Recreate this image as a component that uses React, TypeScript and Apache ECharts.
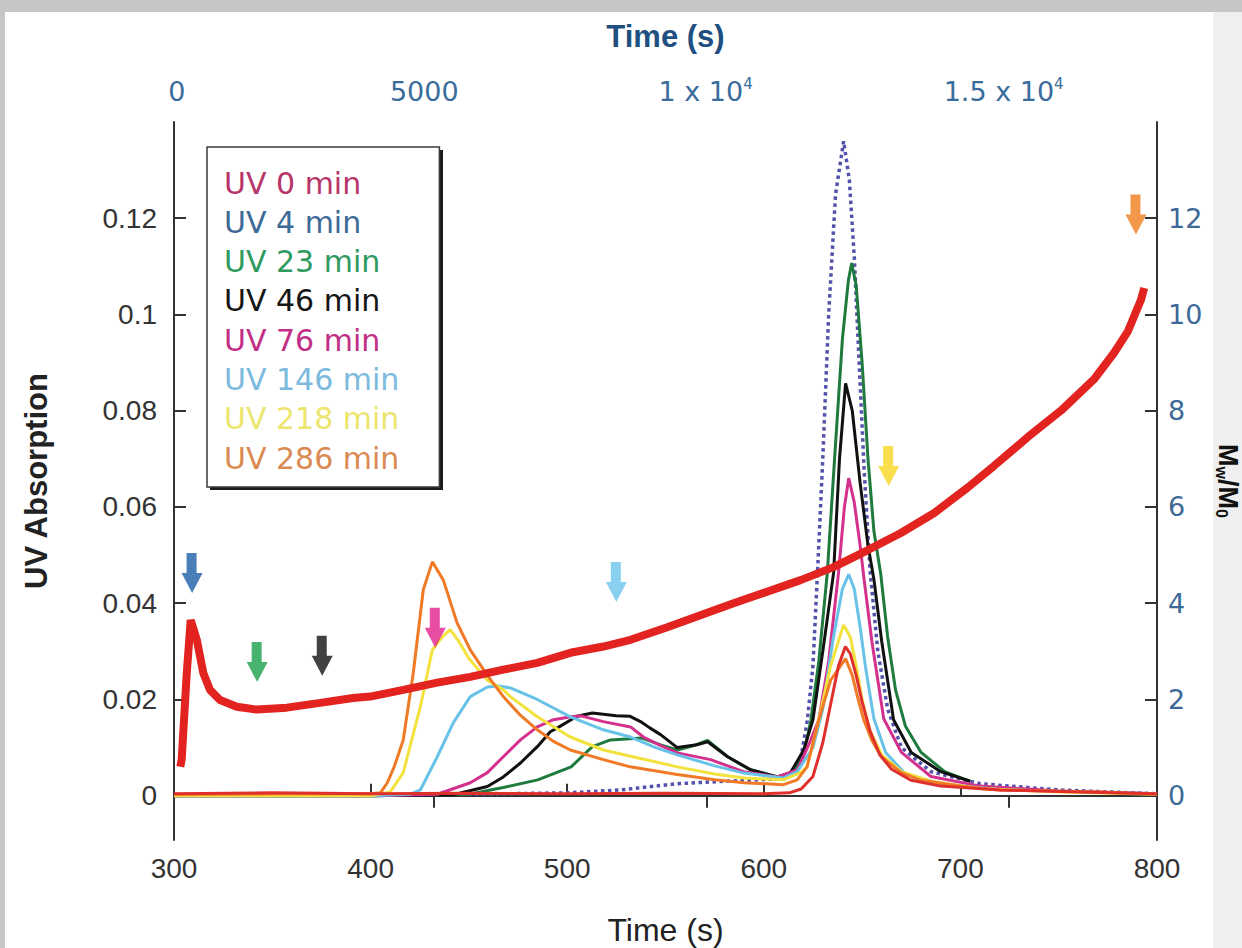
import { useEffect, useRef } from "react";
import * as echarts from "echarts";

type Pt = [number, number];

// ---------- legend / series identity ----------
const legendNames = ["UV 0 min", "UV 4 min", "UV 23 min", "UV 46 min", "UV 76 min", "UV 146 min", "UV 218 min", "UV 286 min"];
const legendTextColors = ["#b8356a", "#3e6a98", "#2f9a60", "#161616", "#c22e86", "#7cbade", "#ece56e", "#da8a52"];
const lineColors = ["#e0302c", "#5252aa", "#1f7a3e", "#111111", "#d4308e", "#68c2e8", "#f3e23e", "#f07a26"];

// ---------- UV absorption traces (time s, absorption) ----------
const uv0: Pt[] = [[300,0.0004],[350,0.0006],[400,0.0004],[450,0.0005],[500,0.0004],[550,0.0005],[600,0.0004],[613,0.0006],[619,0.0014],[625,0.004],[630,0.011],[634,0.019],[638,0.027],[641.5,0.031],[644,0.0295],[647,0.025],[650,0.0195],[654,0.0135],[659,0.0085],[665,0.0055],[675,0.0032],[690,0.002],[720,0.0012],[760,0.0008],[800,0.0004]];
const uv4: Pt[] = [[300,0.0002],[400,0.0002],[450,0.0003],[500,0.0006],[527,0.0012],[556,0.0025],[580,0.003],[607,0.0035],[614,0.0045],[618.7,0.0075],[622.2,0.0158],[625,0.027],[627.3,0.0463],[630,0.07],[633,0.1],[636.5,0.125],[640.6,0.136],[643.5,0.128],[646,0.112],[648.5,0.09],[651,0.068],[654,0.047],[658,0.03],[663,0.018],[670,0.01],[685,0.005],[710,0.0025],[750,0.0012],[800,0.0004]];
const uv23: Pt[] = [[300,0],[400,0],[450,0.0003],[467.5,0.0017],[485,0.0033],[502,0.006],[512.8,0.0102],[522,0.0116],[538,0.012],[548,0.0105],[556,0.0095],[565,0.0105],[571.4,0.0115],[581.6,0.0081],[593,0.0054],[607,0.0039],[614,0.0048],[620,0.008],[624,0.0158],[628,0.028],[632.3,0.0463],[636,0.07],[640,0.095],[643,0.107],[644.7,0.1107],[647,0.106],[650,0.09],[653,0.07],[656,0.055],[659.5,0.046],[663,0.033],[667,0.022],[672,0.0145],[680,0.009],[692,0.005],[705,0.003]];
const uv46: Pt[] = [[300,0],[400,0],[442,0.0002],[459.4,0.0019],[467.5,0.0039],[476.2,0.0068],[484.8,0.0102],[491.4,0.0133],[495,0.0141],[505,0.0165],[512.8,0.0172],[525,0.0166],[532,0.0165],[537.3,0.0154],[542,0.0141],[547.5,0.0127],[556,0.01],[566,0.0106],[571.4,0.0112],[581.6,0.0081],[593.3,0.0054],[607,0.0039],[613.6,0.0048],[620.3,0.0095],[625,0.0158],[630,0.03],[635.5,0.0463],[638.5,0.07],[641.6,0.0857],[645,0.08],[649,0.065],[653,0.052],[656,0.045],[660,0.032],[666,0.0158],[675,0.009],[690,0.005],[705,0.003]];
const uv76: Pt[] = [[300,0],[400,0],[434,0.0003],[450.7,0.0027],[459.4,0.0048],[467.5,0.0081],[476.2,0.0116],[484.8,0.0143],[493,0.0158],[502,0.0164],[507,0.0166],[518.4,0.0154],[532.2,0.0143],[538.8,0.0122],[547,0.0105],[556.1,0.0089],[572.9,0.0075],[589.7,0.005],[607,0.0039],[617.2,0.0054],[623.8,0.0115],[628,0.0158],[633,0.028],[638,0.0463],[641,0.06],[643.2,0.066],[646,0.061],[649,0.052],[651,0.045],[655,0.032],[661,0.016],[670,0.009],[685,0.004],[710,0.002],[750,0.001],[800,0.0004]];
const uv146: Pt[] = [[300,0],[400,0],[420,0.0003],[425.3,0.0012],[433.9,0.0081],[442.1,0.0152],[450.7,0.0206],[459.4,0.0226],[465,0.0228],[471.1,0.0224],[484.8,0.02],[501.6,0.0164],[518.4,0.0137],[532.2,0.0122],[545,0.01],[556,0.0085],[575,0.0062],[590,0.0047],[610,0.0037],[617,0.005],[625,0.01],[630,0.018],[635,0.032],[640,0.043],[643.2,0.046],[646,0.043],[649,0.035],[652,0.026],[656,0.016],[662,0.009],[672,0.0045],[690,0.0025],[720,0.0013],[760,0.0008],[800,0.0004]];
const uv218: Pt[] = [[300,0],[400,0],[410,0.0008],[416.6,0.0048],[425.3,0.0185],[431.4,0.0303],[436.5,0.033],[440.5,0.0345],[445,0.032],[450,0.0285],[459.4,0.024],[467.5,0.022],[471.1,0.0206],[484.8,0.0164],[501.6,0.0122],[518.4,0.0095],[532.2,0.0082],[556,0.006],[575,0.0045],[590,0.0037],[610,0.0033],[618.7,0.0048],[622,0.006],[628,0.0158],[634,0.027],[640.6,0.0355],[644,0.033],[647,0.027],[650,0.02],[654,0.0135],[660,0.0085],[670,0.005],[685,0.003],[710,0.0015],[750,0.0008],[800,0.0003]];
const uv286: Pt[] = [[300,0.0003],[350,0.0004],[400,0.0004],[405,0.0006],[408.5,0.0027],[412,0.006],[416.6,0.0116],[421.7,0.0255],[426.8,0.0428],[431.4,0.0486],[437,0.0448],[444,0.0359],[450.7,0.0303],[459.4,0.025],[467.5,0.0206],[476,0.0168],[484.8,0.0137],[493,0.0113],[501.6,0.0095],[518.4,0.0075],[532,0.006],[556,0.0044],[575,0.0033],[590,0.0027],[610,0.0023],[617,0.0033],[622,0.006],[628,0.0158],[634,0.024],[641.6,0.0285],[645,0.025],[648,0.02],[650.8,0.0158],[655,0.0115],[660,0.008],[670,0.0048],[680,0.0032],[700,0.002],[720,0.0012],[771,0.0008],[799.5,0.0003]];

// ---------- Mw/M0 trace (right axis) ----------
const mwRatio: Pt[] = [[303.2,0.6],[303.9,0.75],[306.5,2.55],[308.5,3.65],[311.6,3.24],[314.9,2.55],[318.3,2.2],[323.4,1.99],[331.9,1.85],[342.1,1.79],[357.4,1.83],[374.3,1.93],[391.1,2.03],[399.8,2.06],[416.6,2.2],[433.9,2.35],[450.7,2.47],[467.5,2.62],[484.8,2.76],[501.6,2.97],[518.4,3.1],[532.2,3.24],[550.9,3.5],[584.6,4.0],[618.7,4.48],[635.5,4.75],[652.7,5.1],[669.7,5.46],[686.5,5.87],[703.6,6.4],[717,6.85],[734.2,7.45],[751.1,8.0],[767.9,8.65],[778.1,9.2],[785.2,9.65],[791.8,10.3],[793.5,10.55]];

// ---------- arrows ----------
const arrowTimes = [309.2, 342.3, 375.4, 432.9, 525, 663.5, 789.3];
const arrowLevels = [0.0463, 0.0278, 0.0291, 0.0349, 0.0444, 0.0685, 0.1208];
const arrowColors = ["#1c5ea8", "#1aa04a", "#111111", "#e0208c", "#6cc4ec", "#f7d722", "#f07d1e"];

// ---------- ticks ----------
const leftTicks = [0, 0.02, 0.04, 0.06, 0.08, 0.1, 0.12];
const leftTickLabels = ["0", "0.02", "0.04", "0.06", "0.08", "0.1", "0.12"];
const rightTicks = [0, 2, 4, 6, 8, 10, 12];
const topTickMarks = [431.9, 570.9, 724.6];
const topLabelPositions = [301.5, 427.3, 570.4, 722];
const topTickLabels = ["0", "5000", "1 x 10{sup|4}", "1.5 x 10{sup|4}"];

const SANS = "'Liberation Sans', Arial, sans-serif";
const GEO = "'DejaVu Sans', sans-serif";
const ARROW = "path://M5,0 L15,0 L15,20 L21,20 L10.5,40 L0,20 L5,20 Z";

const uvData = [uv0, uv4, uv23, uv46, uv76, uv146, uv218, uv286];
const drawOrder = [1, 2, 3, 4, 5, 6, 7, 0];

function buildOption(): any {
  const axisLineStyle = { color: "#333", width: 2 };
  const uvSeries = drawOrder.map((i) => ({
    type: "line",
    name: legendNames[i],
    xAxisIndex: 0,
    yAxisIndex: 0,
    data: uvData[i],
    showSymbol: false,
    symbol: "none",
    smooth: false,
    lineStyle: { color: lineColors[i], width: i === 1 ? 3.5 : 3, type: i === 1 ? "dotted" : "solid" },
    itemStyle: { color: lineColors[i] },
    z: 2 + drawOrder.indexOf(i) * 0.01,
  }));
  return {
    animation: false,
    backgroundColor: "#ffffff",
    graphic: [
      { type: "rect", z: -10, shape: { x: 0, y: 0, width: 1242, height: 12 }, style: { fill: "#c6c6c6" } },
      { type: "rect", z: -10, shape: { x: 0, y: 0, width: 5, height: 948 }, style: { fill: "#c6c6c6" } },
      { type: "rect", z: -10, shape: { x: 1213, y: 12, width: 29, height: 936 }, style: { fill: "#efefef" } },
      { type: "rect", z: 3, shape: { x: 210, y: 150, width: 233, height: 340 }, style: { fill: "#1c1c1c" } },
    ],
    grid: { left: 174, right: 85, top: 122, bottom: 108, containLabel: false, outerBoundsMode: "none" },
    legend: {
      orient: "vertical",
      left: 207,
      top: 147,
      z: 4,
      icon: "none",
      itemWidth: 1,
      itemHeight: 30,
      itemGap: 9.3,
      padding: [21, 40, 14, 11],
      backgroundColor: "#ffffff",
      borderColor: "#3a3a3a",
      borderWidth: 1.5,
      selectedMode: false,
      textStyle: { fontFamily: GEO, fontSize: 30, lineHeight: 30 },
      data: legendNames.map((n, i) => ({ name: n, textStyle: { color: legendTextColors[i] } })),
    },
    xAxis: [
      {
        type: "value",
        position: "bottom",
        min: 300,
        max: 800,
        interval: 100,
        axisLine: { lineStyle: axisLineStyle },
        axisTick: { inside: true, length: 12, lineStyle: axisLineStyle },
        axisLabel: { fontFamily: SANS, fontSize: 28, color: "#333", margin: 14 },
        splitLine: { show: false },
        name: "Time (s)",
        nameLocation: "middle",
        nameGap: 74,
        nameTextStyle: { fontFamily: SANS, fontSize: 32, color: "#222" },
      },
      {
        type: "value",
        position: "top",
        min: 300,
        max: 800,
        axisLine: { lineStyle: axisLineStyle },
        axisTick: { inside: true, length: 12, lineStyle: axisLineStyle, customValues: topTickMarks },
        axisLabel: {
          customValues: topLabelPositions,
          fontFamily: GEO,
          fontSize: 27,
          lineHeight: 30,
          color: "#3a6c9c",
          margin: 16,
          formatter: (v: number) => {
            const k = topLabelPositions.indexOf(v);
            return k >= 0 ? topTickLabels[k] : "";
          },
          rich: { sup: { fontFamily: GEO, fontSize: 15, lineHeight: 14, verticalAlign: "top", color: "#3a6c9c" } },
        },
        splitLine: { show: false },
        name: "Time (s)",
        nameLocation: "middle",
        nameGap: 70,
        nameTextStyle: { fontFamily: SANS, fontSize: 31, fontWeight: "bold", color: "#1f4f80" },
      },
    ],
    yAxis: [
      {
        type: "value",
        position: "left",
        min: -0.0092,
        max: 0.14,
        axisLine: { show: true, lineStyle: axisLineStyle },
        axisTick: { show: true, inside: true, length: 12, lineStyle: axisLineStyle, customValues: leftTicks },
        axisLabel: {
          customValues: leftTicks,
          fontFamily: SANS,
          fontSize: 28,
          color: "#333",
          margin: 17,
          formatter: (v: number) => {
            const k = leftTicks.findIndex((t) => Math.abs(t - v) < 1e-9);
            return k >= 0 ? leftTickLabels[k] : "";
          },
        },
        splitLine: { show: false },
        name: "UV Absorption",
        nameLocation: "middle",
        nameGap: 122,
        nameTextStyle: { fontFamily: SANS, fontSize: 31, fontWeight: "bold", color: "#222" },
      },
      {
        type: "value",
        position: "right",
        min: -0.92,
        max: 14,
        axisLine: { show: true, lineStyle: axisLineStyle },
        axisTick: { show: true, inside: true, length: 12, lineStyle: axisLineStyle, customValues: rightTicks },
        axisLabel: { customValues: rightTicks, fontFamily: GEO, fontSize: 27, color: "#3d6a96", margin: 11 },
        splitLine: { show: false },
        name: "{b|M}{s|w}{b|/M}{s|0}",
        nameLocation: "middle",
        nameRotate: -90,
        nameGap: 54,
        nameTextStyle: {
          rich: {
            b: { fontFamily: SANS, fontSize: 27, fontWeight: "bold", color: "#111", lineHeight: 30 },
            s: { fontFamily: SANS, fontSize: 16, fontWeight: "bold", color: "#111", lineHeight: 13, verticalAlign: "bottom" },
          },
        },
      },
    ],
    series: [
      ...uvSeries,
      {
        type: "line",
        name: "Mw/M0",
        xAxisIndex: 0,
        yAxisIndex: 1,
        data: mwRatio,
        showSymbol: false,
        symbol: "none",
        lineStyle: { color: "#e2231f", width: 8 },
        itemStyle: { color: "#e2231f" },
        z: 3,
      },
      {
        type: "scatter",
        name: "arrows",
        xAxisIndex: 0,
        yAxisIndex: 0,
        symbol: ARROW,
        symbolSize: [21, 40],
        data: arrowTimes.map((t, i) => ({ value: [t, arrowLevels[i]], itemStyle: { color: arrowColors[i] } })),
        z: 5,
      },
    ],
  };
}

export default function App() {
  const ref = useRef<HTMLDivElement>(null);
  useEffect(() => {
    if (!ref.current) return;
    const chart = echarts.init(ref.current, null, { renderer: "svg" });
    chart.setOption(buildOption());
    return () => chart.dispose();
  }, []);
  return <div ref={ref} style={{ position: "absolute", left: 0, top: 0, width: 1242, height: 948 }} />;
}
